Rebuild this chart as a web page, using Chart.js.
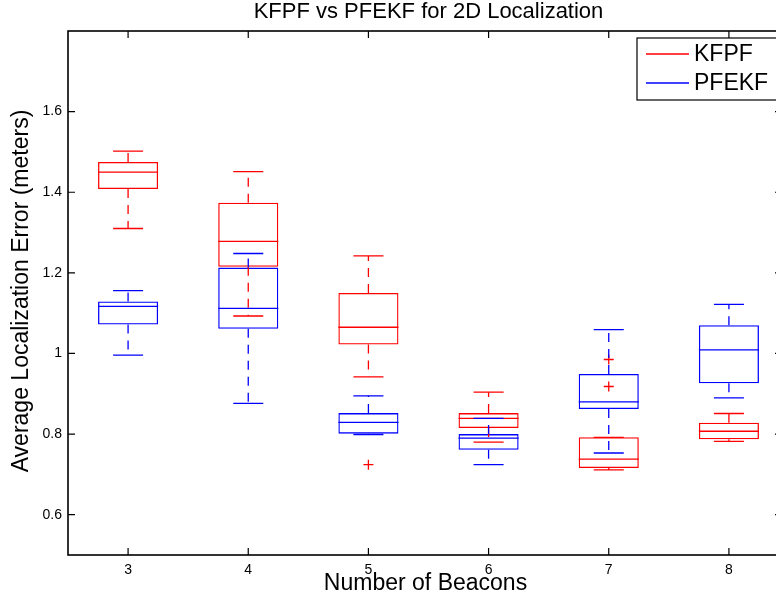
<!DOCTYPE html>
<html lang="en">
<head>
  <meta charset="UTF-8" />
  <title>KFPF vs PFEKF for 2D Localization</title>
  <script src="https://cdn.jsdelivr.net/npm/chart.js"></script>
  <style>
    body {
      margin: 0;
      background: #fff;
      overflow: hidden;
    }
    canvas {
      display: block;
    }
  </style>
</head>
<body>
  <canvas id="boxChart" width="800" height="603"></canvas>
  <script>
    const beacons = ['3', '4', '5', '6', '7', '8'];
    const yTicks = [0.6, 0.8, 1, 1.2, 1.4, 1.6];

    // KFPF (red)
    const kfpfLow = [1.310, 1.093, 0.942, 0.780, 0.711, 0.782];
    const kfpfQ1 = [1.408, 1.215, 1.022, 0.815, 0.716, 0.787];
    const kfpfMedian = [1.450, 1.278, 1.065, 0.839, 0.738, 0.807];
    const kfpfQ3 = [1.475, 1.374, 1.150, 0.852, 0.792, 0.828];
    const kfpfHigh = [1.502, 1.451, 1.242, 0.904, 0.792, 0.851];
    const kfpfOutliers = [{ x: '5', y: 0.724 }, { x: '7', y: 0.985 }, { x: '7', y: 0.918 }];

    // PFEKF (blue)
    const pfekfLow = [0.996, 0.876, 0.799, 0.724, 0.753, 0.890];
    const pfekfQ1 = [1.072, 1.061, 0.801, 0.761, 0.862, 0.926];
    const pfekfMedian = [1.117, 1.112, 0.829, 0.790, 0.880, 1.009];
    const pfekfQ3 = [1.129, 1.213, 0.852, 0.800, 0.949, 1.070];
    const pfekfHigh = [1.156, 1.248, 0.895, 0.839, 1.059, 1.122];

    const RED = '#ff0000', BLUE = '#0000ff';
    const FONT = '"Liberation Sans", Arial, Helvetica, sans-serif';

    const series = [
      { name: 'KFPF', color: RED, low: kfpfLow, q1: kfpfQ1, med: kfpfMedian, q3: kfpfQ3, high: kfpfHigh },
      { name: 'PFEKF', color: BLUE, low: pfekfLow, q1: pfekfQ1, med: pfekfMedian, q3: pfekfQ3, high: pfekfHigh }
    ];

    // whiskers, caps, medians, frame, ticks, titles, legend
    const boxPlugin = {
      id: 'boxWhiskers',
      afterDatasetsDraw(chart) {
        const ctx = chart.ctx, x = chart.scales.x, y = chart.scales.y, a = chart.chartArea;
        const cw = x.getPixelForValue(1) - x.getPixelForValue(0);
        ctx.save();
        ctx.lineWidth = 1.3;
        series.forEach(s => {
          ctx.strokeStyle = s.color;
          beacons.forEach((b, i) => {
            const cx = x.getPixelForValue(i);
            const yq1 = y.getPixelForValue(s.q1[i]), yq3 = y.getPixelForValue(s.q3[i]);
            const ylo = y.getPixelForValue(s.low[i]), yhi = y.getPixelForValue(s.high[i]);
            const ym = y.getPixelForValue(s.med[i]);
            // dashed whiskers
            ctx.setLineDash([9, 7]);
            ctx.beginPath();
            ctx.moveTo(cx, yq3); ctx.lineTo(cx, yhi);
            ctx.moveTo(cx, yq1); ctx.lineTo(cx, ylo);
            ctx.stroke();
            ctx.setLineDash([]);
            // caps
            ctx.beginPath();
            ctx.moveTo(cx - cw / 8, yhi); ctx.lineTo(cx + cw / 8, yhi);
            ctx.moveTo(cx - cw / 8, ylo); ctx.lineTo(cx + cw / 8, ylo);
            // median
            ctx.moveTo(cx - cw / 4, ym); ctx.lineTo(cx + cw / 4, ym);
            ctx.stroke();
          });
        });

        // axes frame and inward ticks
        ctx.strokeStyle = '#000';
        ctx.lineWidth = 1.6;
        ctx.strokeRect(a.left, a.top, a.right - a.left, a.bottom - a.top);
        ctx.lineWidth = 1.2;
        ctx.beginPath();
        beacons.forEach((b, i) => {
          const px = x.getPixelForValue(i);
          ctx.moveTo(px, a.bottom); ctx.lineTo(px, a.bottom - 7);
          ctx.moveTo(px, a.top); ctx.lineTo(px, a.top + 7);
        });
        yTicks.forEach(v => {
          const py = y.getPixelForValue(v);
          ctx.moveTo(a.left, py); ctx.lineTo(a.left + 7, py);
          ctx.moveTo(a.right, py); ctx.lineTo(a.right - 14, py);
        });
        ctx.stroke();

        // titles
        ctx.fillStyle = '#000';
        ctx.textAlign = 'center';
        ctx.textBaseline = 'middle';
        const midX = (a.left + a.right) / 2;
        ctx.font = '22px ' + FONT;
        ctx.fillText('KFPF vs PFEKF for 2D Localization', midX, 12);
        ctx.font = '23px ' + FONT;
        ctx.fillText('Number of Beacons', midX - 3, 584);
        ctx.save();
        ctx.translate(22, (a.top + a.bottom) / 2 - 2);
        ctx.rotate(-Math.PI / 2);
        ctx.fillText('Average Localization Error (meters)', 0, 0);
        ctx.restore();

        // legend
        const lx = a.right - 152, ly = a.top + 7;
        ctx.fillStyle = '#fff';
        ctx.fillRect(lx, ly, 150, 62);
        ctx.lineWidth = 1.2;
        ctx.strokeStyle = '#000';
        ctx.strokeRect(lx, ly, 150, 62);
        ctx.font = '23px ' + FONT;
        ctx.textAlign = 'left';
        series.forEach((s, k) => {
          const yy = ly + 16 + k * 29;
          ctx.strokeStyle = s.color;
          ctx.lineWidth = 1.3;
          ctx.beginPath();
          ctx.moveTo(lx + 9, yy); ctx.lineTo(lx + 52, yy);
          ctx.stroke();
          ctx.fillStyle = '#000';
          ctx.fillText(s.name, lx + 57, yy + 1);
        });
        ctx.restore();
      }
    };

    new Chart(document.getElementById('boxChart'), {
      type: 'bar',
      data: {
        labels: beacons,
        datasets: [
          {
            label: 'PFEKF',
            data: beacons.map((b, i) => [pfekfQ1[i], pfekfQ3[i]]),
            backgroundColor: 'rgba(0,0,0,0)',
            borderColor: BLUE,
            borderWidth: 1.3,
            borderSkipped: false,
            barPercentage: 0.5,
            categoryPercentage: 1,
            grouped: false,
            order: 0
          },
          {
            label: 'KFPF',
            data: beacons.map((b, i) => [kfpfQ1[i], kfpfQ3[i]]),
            backgroundColor: 'rgba(0,0,0,0)',
            borderColor: RED,
            borderWidth: 1.3,
            borderSkipped: false,
            barPercentage: 0.5,
            categoryPercentage: 1,
            grouped: false,
            order: 1
          },
          {
            type: 'line',
            label: 'KFPF outliers',
            data: kfpfOutliers,
            showLine: false,
            pointStyle: 'cross',
            pointRadius: 5,
            borderColor: RED,
            borderWidth: 1.3,
            order: 2
          }
        ]
      },
      plugins: [boxPlugin],
      options: {
        responsive: false,
        animation: false,
        layout: { padding: { top: 31, right: 11, left: 0, bottom: 0 } },
        plugins: {
          legend: { display: false },
          tooltip: { enabled: false },
          title: { display: false }
        },
        scales: {
          x: {
            type: 'category',
            offset: true,
            grid: { display: false, drawTicks: false },
            border: { display: false },
            ticks: { color: '#000', font: { family: FONT, size: 14 }, padding: 7, maxRotation: 0 },
            afterFit: s => { s.height = 48; }
          },
          y: {
            type: 'linear',
            min: 0.5,
            max: 1.8,
            grid: { display: false, drawTicks: false },
            border: { display: false },
            afterBuildTicks: s => { s.ticks = yTicks.map(v => ({ value: v })); },
            ticks: {
              color: '#000',
              font: { family: FONT, size: 14 },
              padding: 6,
              callback: v => String(Math.round(v * 10) / 10)
            },
            afterFit: s => { s.width = 68; }
          }
        }
      }
    });
  </script>
</body>
</html>
